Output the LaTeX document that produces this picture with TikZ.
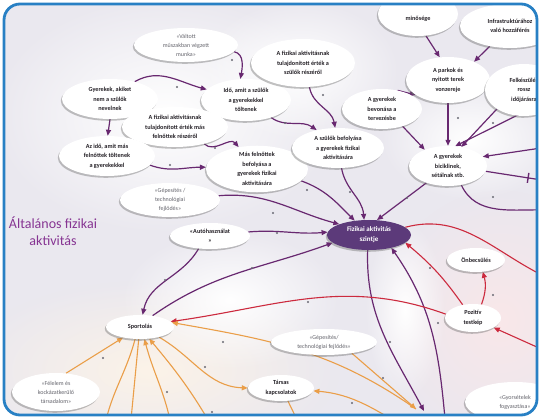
\documentclass[tikz,border=0pt]{standalone}
\usepackage{fontspec}
\setmainfont{Carlito}
\usetikzlibrary{arrows.meta,shapes.geometric,shadows,fadings,decorations.markings}

\definecolor{framecol}{RGB}{40,128,196}
\definecolor{bgcol}{RGB}{234,232,239}
\definecolor{creamcol}{RGB}{252,243,232}
\definecolor{pinkcol}{RGB}{249,231,233}
\definecolor{linkpurple}{RGB}{104,40,112}
\definecolor{linkred}{RGB}{204,42,62}
\definecolor{linkorange}{RGB}{234,158,72}
\definecolor{hubfill}{RGB}{92,58,122}
\definecolor{titlecol}{RGB}{134,52,146}
\definecolor{quotegray}{RGB}{100,100,108}
\definecolor{inkcol}{RGB}{38,34,40}
\definecolor{dotcol}{RGB}{105,105,115}

\tikzfading[name=softblob, inner color=transparent!0, outer color=transparent!100]

\pgfdeclarelayer{back}
\pgfdeclarelayer{links}
\pgfsetlayers{back,links,main}

\tikzset{
  bubble/.style={ellipse, fill=white, inner sep=0pt, align=center,
    font=\fontsize{6.2}{9.5}\selectfont\bfseries, text=inkcol,
    drop shadow={shadow xshift=-1.2pt, shadow yshift=-1.8pt, opacity=0.4, fill=black!60}},
  quote/.style={bubble, font=\fontsize{6}{9}\selectfont, text=quotegray},
  hub/.style={ellipse, fill=hubfill, text=white, align=center, inner sep=0pt,
    font=\fontsize{7}{10}\selectfont\bfseries,
    drop shadow={shadow xshift=-1.2pt, shadow yshift=-1.8pt, opacity=0.4, fill=black!60}},
  headtip/.style={-{Triangle[length=6pt,width=5pt]}},
  pline/.style={draw=linkpurple, line width=1.2pt},
  plink/.style={pline, headtip},
  rline/.style={draw=linkred, line width=1.1pt},
  rlink/.style={rline, headtip},
  oline/.style={draw=linkorange, line width=1.1pt},
  olink/.style={oline, headtip},
  crossbar/.style={postaction={decorate, decoration={markings,
    mark=at position 0.68 with {\draw[linkpurple, line width=1.4pt] (0,-5pt) -- (0,5pt);}}}},
  frameclip/.style={rounded corners=16pt}
}

\begin{document}
\begin{tikzpicture}[x=1pt, y=-1pt]
\useasboundingbox (0,0) rectangle (541,419);

% ---------- backdrop ----------
\begin{pgfonlayer}{back}
  \clip[frameclip] (4,4) rectangle (537,415);
  \fill[bgcol] (0,0) rectangle (541,419);
  \fill[white, path fading=softblob] (165,115) ellipse (175pt and 120pt);
  \fill[white, path fading=softblob] (300,70) ellipse (100pt and 70pt);
  \fill[white, path fading=softblob] (470,140) ellipse (90pt and 60pt);
  \fill[creamcol, path fading=softblob] (150,370) ellipse (190pt and 90pt);
  \fill[white, path fading=softblob] (230,300) ellipse (110pt and 70pt);
  \fill[pinkcol, path fading=softblob] (500,320) ellipse (120pt and 130pt);
  \fill[white, path fading=softblob] (405,310) ellipse (40pt and 90pt);
\end{pgfonlayer}

% ---------- nodes ----------
\begin{scope}
  \clip[frameclip] (4,4) rectangle (537,415);

  \node[quote, minimum width=104pt, minimum height=34pt] (shift) at (186,45) {«Váltott\\ műszakban végzett\\ munka»};
  \node[bubble, minimum width=96pt, minimum height=40pt] (others) at (110,99) {Gyerekek, akiket\\ nem a szülők\\ nevelnek};
  \node[bubble, minimum width=90pt, minimum height=42pt] (ptime) at (246,100) {Idő, amit a szülők\\ a gyerekekkel\\ töltenek};
  \node[bubble, minimum width=104pt, minimum height=48pt] (pvalue) at (303,63) {A fizikai aktivitásnak\\ tulajdonított érték a\\ szülők részéről};
  \node[bubble, minimum width=106pt, minimum height=40pt] (avalue) at (175,127) {A fizikai aktivitásnak\\ tulajdonított érték más\\ felnőttek részéről};
  \node[bubble, minimum width=96pt, minimum height=40pt] (atime) at (107,156) {Az idő, amit más\\ felnőttek töltenek\\ a gyerekekkel};
  \node[bubble, minimum width=102pt, minimum height=46pt] (ainfl) at (257,169) {Más felnőttek\\ befolyása a\\ gyerekek fizikai\\ aktivitására};
  \node[bubble, minimum width=92pt, minimum height=40pt] (pinfl) at (338,148) {A szülők befolyása\\ a gyerekek fizikai\\ aktivitására};
  \node[bubble, minimum width=80pt, minimum height=40pt] (involve) at (382,109) {A gyerekek\\ bevonása a\\ tervezésbe};
  \node[bubble, minimum width=84pt, minimum height=46pt] (parks) at (448,80) {A parkok és\\ nyitott terek\\ vonzereje};
  \node[bubble, minimum width=80pt, minimum height=44pt, text height=14pt, text depth=0pt] (quality) at (418,14) {minősége};
  \node[bubble, minimum width=100pt, minimum height=44pt] (infra) at (510,26) {Infrastruktúrához\\ való hozzáférés};
  \node[bubble, minimum width=78pt, minimum height=52pt] (weather) at (524,90) {Felkészülés\\ rossz\\ időjárásra};
  \node[bubble, minimum width=78pt, minimum height=40pt] (cycle) at (448,166) {A gyerekek\\ biciklinek,\\ sétálnak stb.};
  \node[quote, minimum width=100pt, minimum height=34pt] (tech) at (170,200) {«Gépesítés /\\ technológiai\\ fejlődés»};
  \node[bubble, minimum width=80pt, minimum height=26pt] (car) at (210,236) {«Autóhasználat\\ »};
  \node[hub, minimum width=84pt, minimum height=30pt] (level) at (369,235) {Fizikai aktivitás\\ szintje};
  \node[font=\fontsize{14}{17}\selectfont, text=titlecol, align=center] (title) at (53,231) {Általános fizikai\\ aktivitás};
  \node[bubble, minimum width=58pt, minimum height=24pt] (esteem) at (476,260) {Önbecsülés};
  \node[bubble, minimum width=56pt, minimum height=28pt] (body) at (473,318) {Pozitív\\ testkép};
  \node[bubble, minimum width=68pt, minimum height=24pt] (sport) at (140,327) {Sportolás};
  \node[quote, minimum width=106pt, minimum height=26pt] (tech2) at (324,342) {«Gépesítés/\\ technológiai fejlődés»};
  \node[bubble, minimum width=66pt, minimum height=26pt] (social) at (281,388) {Társas\\ kapcsolatok};
  \node[quote, minimum width=88pt, minimum height=38pt] (fear) at (56,392) {«Félelem és\\ kockázatkerülő\\ társadalom»};
  \node[quote, minimum width=100pt, minimum height=40pt] (fastfood) at (515,402) {«Gyorsételek\\ fogyasztása»};
\end{scope}

% open ends of links that leave the frame
\coordinate (rA) at (548,100);
\coordinate (rB) at (548,147);
\coordinate (rC) at (548,181);
\coordinate (rD) at (548,210);
\coordinate (rE) at (548,278);
\coordinate (rF) at (548,352);
\coordinate (sinkA) at (424,411);
\coordinate (sinkB) at (416,409);
\coordinate (srcA) at (446,430);
\coordinate (srcT) at (410,430);
\coordinate (bl1) at (104,430);
\coordinate (bl2) at (130,430);
\coordinate (bl3) at (172,430);
\coordinate (bl4) at (214,430);
\coordinate (bs) at (302,430);

% ---------- links ----------
\begin{pgfonlayer}{links}
  \clip[frameclip] (4,4) rectangle (537,415);

  % purple causal links
  \draw[plink] (shift.-8) to[out=-10,in=80] (ptime.105);
  \draw[plink] (others.35) to[out=30,in=165] (ptime.165);
  \draw[plink] (others.-90) -- (atime.88);
  \draw[plink] (avalue.-30) to[out=-45,in=130] (ainfl.130);
  \draw[plink] (atime.-12) to[out=-20,in=180] (ainfl.178);
  \draw[plink] (ptime.-35) to[out=-35,in=145] (pinfl.140);
  \draw[plink] (pvalue.-75) to[out=-80,in=100] (pinfl.98);
  \draw[plink] (involve.50) -- (parks.205);
  \draw[plink] (involve.-40) -- (cycle.145);
  \draw[plink] (parks.-90) -- (cycle.90);
  \draw[plink] (quality.-70) -- (parks.110);
  \draw[plink] (infra.225) -- (parks.35);
  \draw[plink] (weather.215) -- (cycle.55);
  \draw[plink] (rA) -- (cycle.70);
  \draw[plink] (rB) -- (cycle.15);
  \draw[pline, crossbar] (cycle.-8) -- (rC);
  \draw[pline] (cycle.-55) to[out=-65,in=178] (rD);
  \draw[plink] (cycle.218) -- (level.62);
  \draw[plink] (pinfl.-80) to[out=-80,in=95] (level.108);
  \draw[plink] (ainfl.-15) to[out=-20,in=135] (level.135);
  \draw[plink] (tech.5) to[out=5,in=165] (level.160);
  \draw[plink] (car.6) to[out=5,in=185] (level.176);
  \draw[plink] (sport.42) to[out=35,in=200] (level.192);
  \draw[plink] (car.228) to[out=-120,in=78] (sport.78);
  \draw[plink] (level.-95) to[out=-92,in=118] (sinkA);
  \draw[plink] (srcA) to[out=95,in=-55] (level.-30);

  % red links
  \draw[rline] (level.12) to[out=15,in=155] (rE);
  \draw[rlink] (body.128) to[out=125,in=-40] (level.-12);
  \draw[rlink] (body.172) to[out=160,in=8] (sport.10);
  \draw[rlink] (body.58) to[out=70,in=-75] (esteem.-60);
  \draw[rlink] (rF) -- (body.-25);

  % orange links
  \draw[olink] (fear.62) -- (sport.212);
  \draw[oline] (sport.-112) to[out=-105,in=80] (bl1);
  \draw[oline] (sport.-96) -- (bl2);
  \draw[olink] (bl3) to[out=100,in=-75] (sport.-70);
  \draw[olink] (bl4) to[out=120,in=-50] (sport.-52);
  \draw[olink] (sport.-28) to[out=-30,in=178] (social.180);
  \draw[olink] (sinkB) to[out=145,in=-10] (sport.8);
  \draw[olink] (tech2.-22) -- (sinkB);
  \draw[olink] (srcT) to[out=150,in=-5] (social.-5);
  \draw[oline] (social.-62) -- (bs);

  % small sign markers
  \foreach \p in {(232,60),(177,87),(285,123),(215,148),(170,165),(323,95),(413,93),
                  (458,118),(493,123),(307,190),(350,192),(407,198),(493,197),(273,213),
                  (277,233),(252,268),(165,280),(308,302),(430,268),(103,358),(167,392),
                  (223,342),(205,367),(212,412),(352,403),(493,295),(438,323),(390,342),
                  (383,378)}
    \fill[dotcol] \p circle (1.1pt);
\end{pgfonlayer}

% ---------- frame ----------
\draw[framecol, line width=2.8pt, frameclip] (4,4) rectangle (537,415);
\end{tikzpicture}
\end{document}
